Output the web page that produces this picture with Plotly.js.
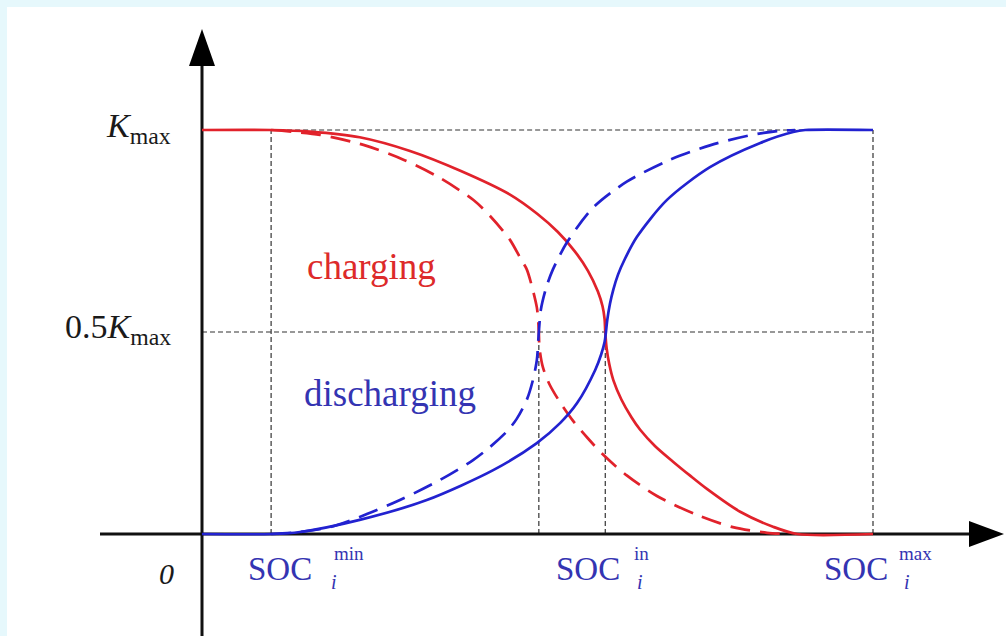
<!DOCTYPE html>
<html>
<head>
<meta charset="utf-8">
<script src="https://cdn.plot.ly/plotly-3.0.1.min.js"></script>
<style>html,body{margin:0;padding:0;background:#e6f8fc;}#chart{width:1006px;height:636px;}</style>
</head>
<body>
<div id="chart"></div>
<script>
// ---- data (x: SOC normalised so SOC_max = 1; y: K / K_max) ----
const socMin = 0.103;
const socIn = 0.601;
const socMax = 1.0;
const socDashCross = 0.502;
const kMax = 1.0;
const kHalf = 0.5;

const redSolidX = [0, 0.103, 0.161, 0.235, 0.310, 0.385, 0.459, 0.500, 0.530, 0.555, 0.575, 0.590, 0.597, 0.600, 0.601, 0.603, 0.607, 0.613, 0.625, 0.640, 0.653, 0.675, 0.702, 0.727, 0.753, 0.802, 0.851, 0.887, 1.0];
const redSolidY = [1, 1, 0.996, 0.982, 0.948, 0.899, 0.840, 0.792, 0.748, 0.701, 0.652, 0.600, 0.563, 0.532, 0.5, 0.46, 0.42, 0.381, 0.333, 0.289, 0.258, 0.218, 0.179, 0.145, 0.111, 0.055, 0.018, 0, 0];

const redDashX = [0.103, 0.176, 0.243, 0.301, 0.355, 0.405, 0.430, 0.459, 0.475, 0.484, 0.492, 0.499, 0.501, 0.502, 0.503, 0.508, 0.518, 0.534, 0.553, 0.575, 0.598, 0.633, 0.678, 0.738, 0.791, 0.842, 0.876];
const redDashY = [1, 0.988, 0.962, 0.926, 0.881, 0.826, 0.786, 0.728, 0.681, 0.655, 0.611, 0.561, 0.530, 0.5, 0.46, 0.413, 0.370, 0.325, 0.280, 0.237, 0.196, 0.145, 0.094, 0.047, 0.017, 0.003, 0];

const blueSolidX = [0, 0.103, 0.146, 0.235, 0.335, 0.434, 0.499, 0.534, 0.559, 0.586, 0.595, 0.600, 0.602, 0.604, 0.608, 0.613, 0.620, 0.630, 0.648, 0.693, 0.757, 0.832, 0.881, 0.899, 1.0];
const blueSolidY = [0, 0, 0.005, 0.035, 0.084, 0.158, 0.225, 0.275, 0.324, 0.406, 0.445, 0.475, 0.5, 0.53, 0.57, 0.605, 0.642, 0.680, 0.735, 0.827, 0.908, 0.968, 0.995, 1, 1];

const blueDashX = [0.103, 0.146, 0.191, 0.235, 0.295, 0.355, 0.404, 0.429, 0.455, 0.469, 0.484, 0.493, 0.499, 0.502, 0.505, 0.513, 0.523, 0.544, 0.583, 0.633, 0.697, 0.757, 0.817, 0.857, 0.884];
const blueDashY = [0, 0.005, 0.017, 0.042, 0.084, 0.134, 0.183, 0.215, 0.255, 0.285, 0.332, 0.380, 0.430, 0.5, 0.555, 0.610, 0.655, 0.722, 0.808, 0.872, 0.926, 0.962, 0.987, 0.997, 1];

const yTickLabels = ['<i>K</i><sub>max</sub>', '0.5<i>K</i><sub>max</sub>', '<i>0</i>'];
const xTickMain = ['SOC', 'SOC', 'SOC'];
const xTickSup = ['min', 'in', 'max'];
const xTickSub = ['<i>i</i>', '<i>i</i>', '<i>i</i>'];
const curveLabels = ['charging', 'discharging'];

// ---- pixel helpers (layout only) ----
const PX0 = 202, PXS = 671, PY0 = 534, PYS = 404;
const dx = p => (p - PX0) / PXS;
const dy = p => (PY0 - p) / PYS;

const RED = '#e1222b';
const BLUE = '#2222d0';
const TXTBLUE = '#3434b2';
const FONT = 'Liberation Serif, Times New Roman, serif';
const LW = 2.7;

const traces = [
  {x: redSolidX, y: redSolidY, mode: 'lines', line: {color: RED, width: LW, shape: 'spline', smoothing: 0.8}},
  {x: redDashX, y: redDashY, mode: 'lines', line: {color: RED, width: LW, dash: '20px,10px', shape: 'spline', smoothing: 0.8}},
  {x: blueSolidX, y: blueSolidY, mode: 'lines', line: {color: BLUE, width: LW, shape: 'spline', smoothing: 0.8}},
  {x: blueDashX, y: blueDashY, mode: 'lines', line: {color: BLUE, width: LW, dash: '20px,10px', shape: 'spline', smoothing: 0.8}}
];

const grid = {color: '#333', width: 1.2, dash: '5px,3px'};
const shapes = [
  {type: 'line', layer: 'below', x0: socMin, x1: socMax, y0: kMax, y1: kMax, line: grid},
  {type: 'line', layer: 'below', x0: 0, x1: socMax, y0: kHalf, y1: kHalf, line: grid},
  {type: 'line', layer: 'below', x0: socMin, x1: socMin, y0: 0, y1: kMax, line: grid},
  {type: 'line', layer: 'below', x0: socDashCross, x1: socDashCross, y0: 0, y1: kHalf, line: grid},
  {type: 'line', layer: 'below', x0: socIn, x1: socIn, y0: 0, y1: kHalf, line: grid},
  {type: 'line', layer: 'below', x0: socMax, x1: socMax, y0: 0, y1: kMax, line: grid},
  {type: 'line', layer: 'below', x0: dx(100), x1: dx(975), y0: 0, y1: 0, line: {color: '#111', width: 3}},
  {type: 'line', layer: 'below', x0: 0, x1: 0, y0: dy(640), y1: dy(62), line: {color: '#111', width: 3}},
  {type: 'path', layer: 'below', path: `M ${dx(1004)} 0 L ${dx(969)} ${dy(521)} L ${dx(969)} ${dy(547)} Z`, fillcolor: '#000', line: {width: 0}},
  {type: 'path', layer: 'below', path: `M 0 ${dy(29)} L ${dx(189)} ${dy(66)} L ${dx(215)} ${dy(66)} Z`, fillcolor: '#000', line: {width: 0}}
];

const ann = [];
function A(text, x, y, size, color, xanchor) {
  ann.push({text: text, x: dx(x), y: dy(y), xref: 'x', yref: 'y', showarrow: false,
    xanchor: xanchor || 'left', yanchor: 'middle', font: {family: FONT, size: size, color: color}});
}
A(yTickLabels[0], 173, 128, 34, '#1a1a1a', 'right');
A(yTickLabels[1], 173, 329, 34, '#1a1a1a', 'right');
A(yTickLabels[2], 166, 573, 30, '#1a1a1a', 'center');
const socLeft = [246, 554, 822];
const supLeft = [332, 632, 897];
const subLeft = [329, 635, 902];
for (let i = 0; i < 3; i++) {
  A(xTickMain[i], socLeft[i], 569, 33, TXTBLUE, 'left');
  A(xTickSup[i], supLeft[i], 553, 19, TXTBLUE, 'left');
  A(xTickSub[i], subLeft[i], 582, 20, TXTBLUE, 'left');
}
A(curveLabels[0], 371, 266, 37, '#dd2a2a', 'center');
A(curveLabels[1], 390, 393, 37, TXTBLUE, 'center');

const layout = {
  width: 1006, height: 636,
  margin: {l: 7, r: 0, t: 7, b: 0, pad: 0},
  paper_bgcolor: '#e6f8fc',
  plot_bgcolor: '#ffffff',
  showlegend: false,
  xaxis: {range: [dx(7), dx(1006)], visible: false, fixedrange: true},
  yaxis: {range: [dy(636), dy(7)], visible: false, fixedrange: true},
  shapes: shapes,
  annotations: ann
};
Plotly.newPlot('chart', traces, layout, {staticPlot: true, displayModeBar: false});
</script>
</body>
</html>
